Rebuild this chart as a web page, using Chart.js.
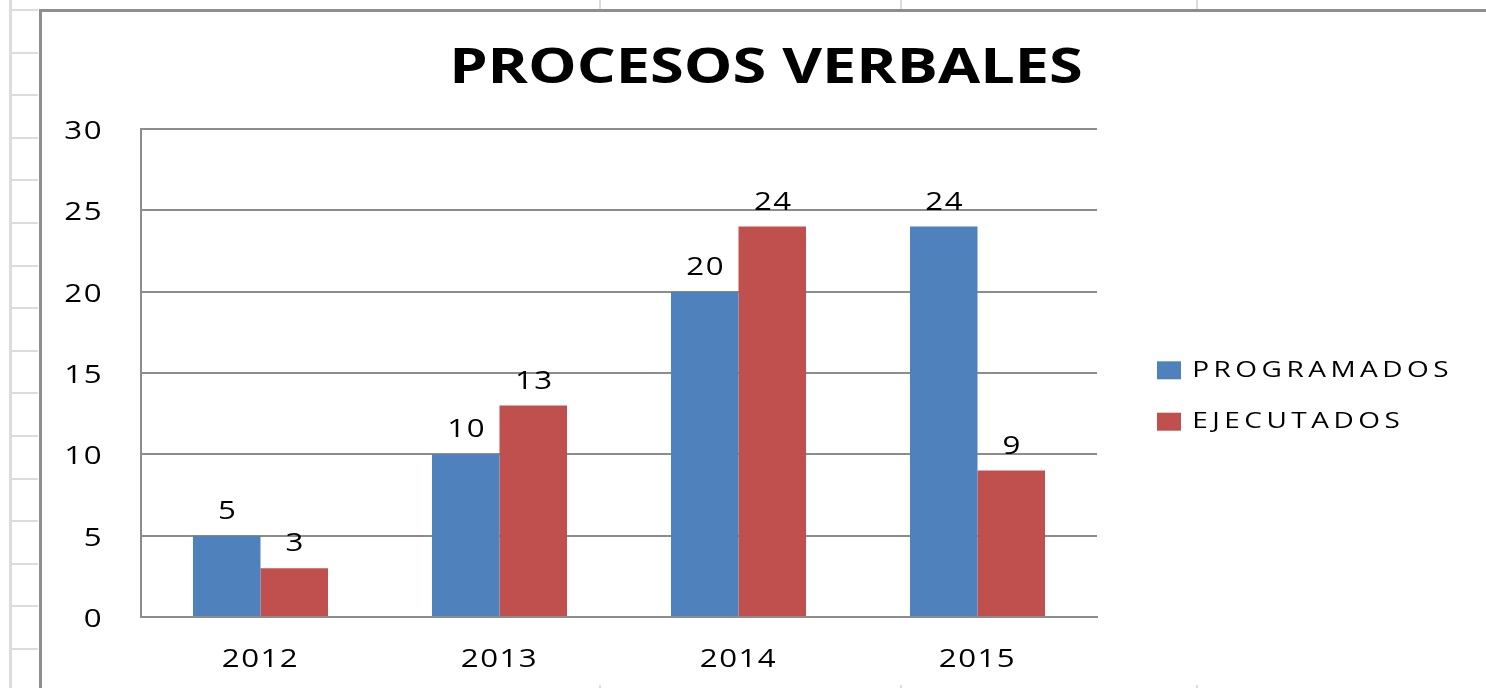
<!DOCTYPE html>
<html><head><meta charset="utf-8">
<script src="https://cdn.jsdelivr.net/npm/chart.js@4.4.0/dist/chart.umd.min.js"></script>
<style>html,body{margin:0;padding:0;background:#fff;} #wrap{width:1486px;height:688px;position:relative;}</style>
</head><body><div id="wrap"><canvas id="c"></canvas></div>
<script>
const categories = ['2012', '2013', '2014', '2015'];
const programados = [5, 10, 20, 24];
const ejecutados = [3, 13, 24, 9];
const seriesNames = ['PROGRAMADOS', 'EJECUTADOS'];
const yTickValues = [0, 5, 10, 15, 20, 25, 30];
const chartTitle = 'PROCESOS VERBALES';

// The reference picture is horizontally stretched: all text is drawn stretched by this factor.
const STRETCH = 1.25;
const BASE_LS = '1.2px', LEGEND_LS = '3.6px', TITLE_LS = '0px';
const LEGEND_W = 389, LEGEND_SHIFT_X = 31, LEGEND_SHIFT_Y = 47;
const TXT = '"Open Sans", "DejaVu Sans", sans-serif';

function patchCtx(ctx) {
  if (ctx._patched) return;
  ctx._patched = true;
  const ft = ctx.fillText.bind(ctx);
  const mt = ctx.measureText.bind(ctx);
  ctx.fillText = function (t, x, y) {
    ctx.save();
    ctx.translate(x, y);
    ctx.scale(STRETCH, 1);
    ft(t, 0, 0);
    ctx.restore();
  };
  ctx.measureText = function (t) {
    const m = mt(t);
    return {
      width: m.width * STRETCH,
      actualBoundingBoxAscent: m.actualBoundingBoxAscent,
      actualBoundingBoxDescent: m.actualBoundingBoxDescent,
      actualBoundingBoxLeft: m.actualBoundingBoxLeft * STRETCH,
      actualBoundingBoxRight: m.actualBoundingBoxRight * STRETCH,
      fontBoundingBoxAscent: m.fontBoundingBoxAscent,
      fontBoundingBoxDescent: m.fontBoundingBoxDescent
    };
  };
}

const sheetPlugin = {
  id: 'sheet',
  beforeDraw(chart) {
    const ctx = chart.ctx;
    ctx.save();
    ctx.strokeStyle = '#dcdcdc';
    ctx.lineWidth = 3;
    ctx.beginPath(); ctx.moveTo(10.5, 0); ctx.lineTo(10.5, 688); ctx.stroke();
    ctx.lineWidth = 2;
    for (let y = 10; y < 688; y += 42.6) {
      ctx.beginPath(); ctx.moveTo(12, Math.round(y)); ctx.lineTo(38, Math.round(y)); ctx.stroke();
    }
    [600, 901, 1197].forEach(x => {
      ctx.beginPath(); ctx.moveTo(x, 0); ctx.lineTo(x, 9); ctx.stroke();
      ctx.beginPath(); ctx.moveTo(x, 685); ctx.lineTo(x, 688); ctx.stroke();
    });
    ctx.strokeStyle = '#8e8e8e';
    ctx.lineWidth = 3;
    ctx.beginPath(); ctx.moveTo(40.5, 688); ctx.lineTo(40.5, 10.5); ctx.lineTo(1486, 10.5); ctx.stroke();
    ctx.restore();
    ctx.letterSpacing = BASE_LS;
  }
};

const spacingPlugin = {
  id: 'spacing',
  beforeInit(chart) { patchCtx(chart.ctx); },
  beforeLayout(chart) {
    chart.ctx.letterSpacing = BASE_LS;
    const lg = chart.legend;
    if (lg && !lg._wrapped) {
      lg._wrapped = true;
      const fit = lg.fit, draw = lg.draw;
      lg.fit = function () {
        const c = this.ctx; c.letterSpacing = LEGEND_LS;
        fit.apply(this, arguments);
        c.letterSpacing = BASE_LS;
        this.width = LEGEND_W;
      };
      lg.draw = function () {
        const c = this.ctx; c.letterSpacing = LEGEND_LS;
        this.left += LEGEND_SHIFT_X; this.top += LEGEND_SHIFT_Y; this.bottom += LEGEND_SHIFT_Y;
        draw.apply(this, arguments);
        this.left -= LEGEND_SHIFT_X; this.top -= LEGEND_SHIFT_Y; this.bottom -= LEGEND_SHIFT_Y;
        c.letterSpacing = BASE_LS;
      };
    }
    const tb = chart.titleBlock;
    if (tb && !tb._wrapped) {
      tb._wrapped = true;
      const draw = tb.draw;
      tb.draw = function () {
        const c = this.ctx; c.letterSpacing = TITLE_LS;
        draw.apply(this, arguments);
        c.letterSpacing = BASE_LS;
      };
    }
  },
  beforeDraw(chart) { chart.ctx.letterSpacing = BASE_LS; }
};

const valuePlugin = {
  id: 'vals',
  afterDatasetsDraw(chart) {
    const ctx = chart.ctx;
    ctx.save();
    ctx.letterSpacing = BASE_LS;
    ctx.font = '25px ' + TXT;
    ctx.fillStyle = '#000';
    ctx.textAlign = 'center';
    ctx.textBaseline = 'middle';
    chart.data.datasets.forEach((ds, i) => {
      chart.getDatasetMeta(i).data.forEach((bar, j) => {
        ctx.fillText(String(ds.data[j]), bar.x + 1, bar.y - 24);
      });
    });
    ctx.restore();
  }
};

new Chart(document.getElementById('c'), {
  type: 'bar',
  data: {
    labels: categories,
    datasets: [
      { label: seriesNames[0], data: programados, backgroundColor: '#4f81bd', borderWidth: 0 },
      { label: seriesNames[1], data: ejecutados, backgroundColor: '#c0504d', borderWidth: 0 }
    ]
  },
  options: {
    responsive: true,
    maintainAspectRatio: false,
    animation: false,
    layout: { padding: { left: 46, top: 10, right: 0, bottom: 0 } },
    datasets: { bar: { barPercentage: 1, categoryPercentage: 0.565 } },
    plugins: {
      tooltip: { enabled: false },
      title: {
        display: true, text: chartTitle, color: '#000',
        font: { family: '"Open Sans", sans-serif', weight: 'bold', size: 49, lineHeight: 1.2 },
        padding: { top: 29.6, bottom: 30.6 }
      },
      legend: {
        position: 'right',
        labels: {
          color: '#000', boxWidth: 24, boxHeight: 18, padding: 29,
          font: { family: TXT, size: 22.4 }
        }
      }
    },
    scales: {
      x: {
        grid: { display: false },
        border: { display: true, color: '#8c8c8c', width: 2 },
        ticks: { color: '#000', font: { family: TXT, size: 25 }, padding: 20, maxRotation: 0 },
        afterFit(s) { s.height = 71; }
      },
      y: {
        min: 0, max: 30,
        afterBuildTicks(s) { s.ticks = yTickValues.map(v => ({ value: v })); },
        grid: { color: '#8c8c8c', lineWidth: 2, drawTicks: false },
        border: { display: true, color: '#8c8c8c', width: 2 },
        ticks: { color: '#000', font: { family: TXT, size: 25 }, padding: 38, labelOffset: 3 },
        afterFit(s) { s.width = 95; }
      }
    }
  },
  plugins: [sheetPlugin, spacingPlugin, valuePlugin]
});
</script>
</body></html>
